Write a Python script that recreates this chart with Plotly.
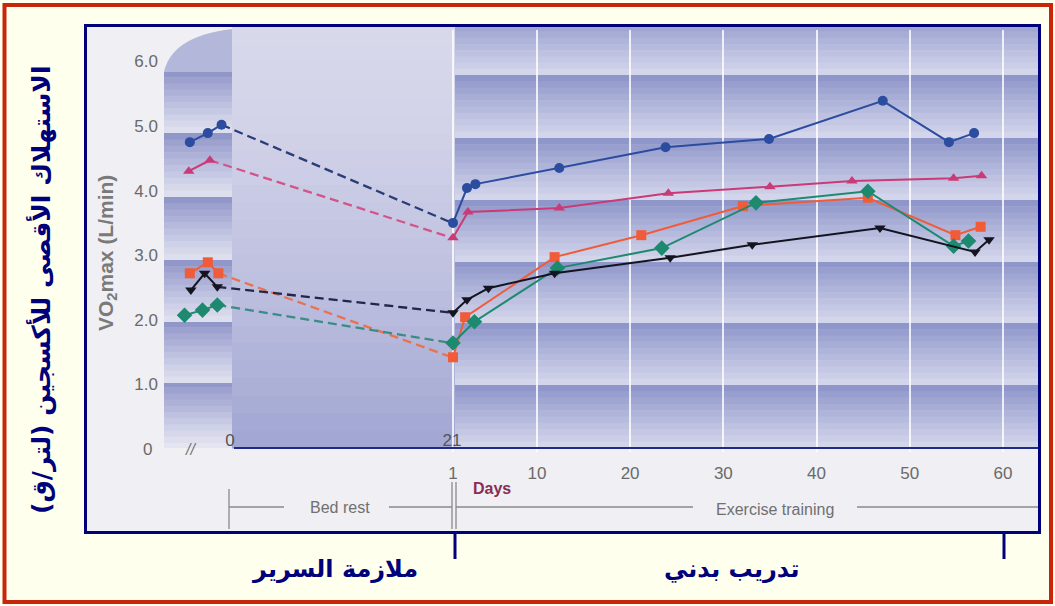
import plotly.graph_objects as go

# ---------------- data ----------------
bed_rest_ticks = [0, 21]
training_ticks = [1, 10, 20, 30, 40, 50, 60]
training_tick_text = ["1", "10", "20", "30", "40", "50", "60"]
y_ticks = [0, 1, 2, 3, 4, 5, 6]
y_tick_text = ["0", "1.0", "2.0", "3.0", "4.0", "5.0", "6.0"]
bed_rest_end_day = 21

blue_pre_days = [-3.8, -2.1, -0.8]
blue_pre = [4.75, 4.89, 5.02]
blue_train_days = [1, 2.5, 3.4, 12.4, 23.8, 34.9, 47.1, 54.2, 56.9]
blue_train = [3.50, 4.04, 4.10, 4.35, 4.67, 4.80, 5.39, 4.75, 4.89]

pink_pre_days = [-3.9, -1.9]
pink_pre = [4.30, 4.47]
pink_train_days = [1, 2.6, 12.4, 24.1, 35.0, 43.8, 54.7, 57.7]
pink_train = [3.27, 3.67, 3.73, 3.96, 4.06, 4.15, 4.19, 4.23]

orange_pre_days = [-3.8, -2.1, -1.1]
orange_pre = [2.72, 2.89, 2.72]
orange_train_days = [1, 2.3, 11.9, 21.2, 32.1, 45.5, 54.9, 57.6]
orange_train = [1.42, 2.04, 2.97, 3.31, 3.76, 3.89, 3.31, 3.44]

green_pre_days = [-4.3, -2.6, -1.2]
green_pre = [2.07, 2.15, 2.23]
green_train_days = [1, 3.3, 12.2, 23.4, 33.5, 45.5, 54.7, 56.3]
green_train = [1.64, 1.97, 2.80, 3.11, 3.81, 3.99, 3.14, 3.22]

black_pre_days = [-3.7, -2.4, -1.2]
black_pre = [2.46, 2.72, 2.51]
black_train_days = [1, 2.5, 4.8, 11.9, 24.3, 33.1, 46.8, 57.0, 58.5]
black_train = [2.11, 2.31, 2.49, 2.72, 2.96, 3.16, 3.42, 3.05, 3.24]

# ---------------- layout geometry (pixels) ----------------
W, H = 1055, 606
PL, PR, PT, PB = 165, 1039, 30, 452
Y0PX = 449          # pixel row of value 0
y_per = 64.6        # pixels per L/min


def px(x):
    return (x - PL) / (PR - PL)


def py(y):
    return (PB - y) / (PB - PT)


# bed-rest axis: day 0 at px 230, day 21 at px 452
k1 = (452 - 230) / 21.0
x1_range = [0 - (230 - PL) / k1, 21 + (PR - 452) / k1]
# training axis: day 1 at px 453, day 60 at px 1003
k2 = (1003 - 453) / 59.0
x2_range = [1 - (453 - PL) / k2, 60 + (PR - 1003) / k2]
y_range = [-(PB - Y0PX) / y_per, (Y0PX - PT) / y_per]

fig = go.Figure()

series = [
    ("blue", blue_pre_days, blue_pre, blue_train_days, blue_train, "#2B4C9F", "#2A3D78", "circle", 10),
    ("pink", pink_pre_days, pink_pre, pink_train_days, pink_train, "#C93A76", "#D2558A", "triangle-up", 10),
    ("orange", orange_pre_days, orange_pre, orange_train_days, orange_train, "#F05C3A", "#E8734F", "square", 10),
    ("green", green_pre_days, green_pre, green_train_days, green_train, "#1D8A70", "#3B8C84", "diamond", 12),
    ("black", black_pre_days, black_pre, black_train_days, black_train, "#141420", "#23254A", "triangle-down", 10),
]

# dashed bed-rest connections first
for name, pd_, pv, td, tv, col, dcol, sym, sz in series:
    fig.add_trace(go.Scatter(
        x=[pd_[-1], bed_rest_end_day], y=[pv[-1], tv[0]], xaxis="x", yaxis="y",
        mode="lines", line=dict(color=dcol, width=2.3, dash="9px,5px"),
        hoverinfo="skip", showlegend=False))

for name, pd_, pv, td, tv, col, dcol, sym, sz in series:
    fig.add_trace(go.Scatter(
        x=pd_, y=pv, xaxis="x", yaxis="y", mode="lines+markers",
        line=dict(color=col, width=2), marker=dict(symbol=sym, size=sz, color=col),
        showlegend=False, name=name))
    fig.add_trace(go.Scatter(
        x=td, y=tv, xaxis="x2", yaxis="y", mode="lines+markers",
        line=dict(color=col, width=2), marker=dict(symbol=sym, size=sz, color=col),
        showlegend=False, name=name))

# ---------------- background shapes ----------------
shapes = []


def rect(x0, y0, x1, y1, fill, layer="below"):
    shapes.append(dict(type="rect", xref="paper", yref="paper", x0=px(x0), x1=px(x1), y0=py(y0), y1=py(y1),
                       fillcolor=fill, layer=layer, line=dict(width=0)))


def mix(c1, c2, t):
    return "rgb(%d,%d,%d)" % tuple(round(a + (b - a) * t) for a, b in zip(c1, c2))


# frame interior
rect(85.5, 25.5, 1039.5, 532.5, "#EFEFF4")


def bands(x0, x1, bounds, dark, light, nominal=62, n=10):
    for top, bot in zip(bounds[:-1], bounds[1:]):
        start = bot - max(nominal, bot - top)
        h = bot - start
        for i in range(n):
            s0 = start + h * i / n
            s1 = start + h * (i + 1) / n
            if s1 <= top:
                continue
            s0 = max(s0, top)
            t = (i + 0.5) / n
            rect(x0, s0, x1, s1 + 0.6, mix(dark, light, t ** 0.9))


# training region stripes
bands(455, PR, [PT - 3, 75, 138, 200, 262, 323, 385, 448], (138, 146, 200), (214, 216, 236))
# left column stripes
bands(164, 232, [72, 133, 197, 260, 322, 383, 443], (140, 146, 199), (226, 227, 240))
rect(164, 443, 232, 448, "#E4E5F0")
# curved top of left column
shapes.append(dict(type="path", xref="paper", yref="paper", layer="below",
                   path="M %f,%f Q %f,%f %f,%f L %f,%f Z" % (
                       px(164), py(72), px(172), py(36), px(232), py(29), px(232), py(72)),
                   fillcolor="#B3B7DA", line=dict(width=0)))
# bed rest region vertical gradient
n = 24
for i in range(n):
    y0 = PT - 3 + (448 - PT + 3) * i / n
    y1 = PT - 3 + (448 - PT + 3) * (i + 1) / n
    rect(232, y0, 455, y1 + 0.6, mix((216, 216, 235), (162, 167, 211), (i / (n - 1)) ** 1.4))

# axis line
shapes.append(dict(type="line", xref="paper", yref="paper", x0=px(234), x1=px(PR), y0=py(448), y1=py(448),
                   line=dict(color="#1E2A8C", width=2), layer="above"))


def line(x0, y0, x1, y1, color="#8A8A8A", width=1.3):
    shapes.append(dict(type="line", xref="paper", yref="paper", x0=px(x0), x1=px(x1), y0=py(y0), y1=py(y1),
                       line=dict(color=color, width=width), layer="above"))


# bracket lines below axis
line(229, 489, 229, 529)
line(229, 507, 284, 507)
line(389, 507, 452, 507)
line(452, 482, 452, 529)
line(456, 482, 456, 529)
line(456, 507, 693, 507)
line(857, 507, 1038, 507)

# navy frame & ticks, red outer border
shapes.append(dict(type="rect", xref="paper", yref="paper", x0=px(85.5), x1=px(1039.5), y0=py(25.5), y1=py(532.5),
                   line=dict(color="#00007A", width=3), layer="above"))
line(455, 534, 455, 559, color="#00007A", width=3)
line(1004, 534, 1004, 559, color="#00007A", width=3)
shapes.append(dict(type="rect", xref="paper", yref="paper", x0=px(4.5), x1=px(1051), y0=py(5), y1=py(602),
                   line=dict(color="#C8260A", width=4), layer="above"))

# ---------------- annotations ----------------
ann = []

tick_family = "Liberation Sans Narrow, Arial Narrow, Liberation Sans, Arial"


def text(x, y, s, size, color, family="Liberation Sans, Arial", angle=0, bold=False):
    if bold:
        s = "<b>%s</b>" % s
    ann.append(dict(xref="paper", yref="paper", x=px(x), y=py(y), text=s, showarrow=False,
                    font=dict(size=size, color=color, family=family), textangle=angle,
                    xanchor="center", yanchor="middle"))


# y-axis zero label (plotly hides it next to the inside x labels)
ann.append(dict(xref="paper", yref="y", x=px(147), y=y_ticks[0], text=y_tick_text[0], showarrow=False,
                font=dict(size=17, color="#6A6A6A", family=tick_family), xanchor="center", yanchor="middle"))

text(190, 449, "<i>//</i>", 16, "#777777")
text(492, 488, "Days", 16, "#8A2D52", bold=True)
text(340, 507, "Bed rest", 16, "#707070")
text(775, 509, "Exercise training", 16, "#707070")
text(107, 253, "VO<sub>2</sub>max (L/min)", 21, "#7A7A7A", bold=True, angle=-90)
text(335, 569, "ملازمة السرير", 24, "#00007A", family="DejaVu Sans", bold=True)
text(732, 569, "تدريب بدني", 24, "#00007A", family="DejaVu Sans", bold=True)
text(42, 290, "الاستهلاك الأقصى للأكسجين (لتر/ق)", 25, "#00007A", family="DejaVu Sans", bold=True, angle=-90)

tick_font = dict(family=tick_family, size=17, color="#6A6A6A")

fig.update_layout(
    width=W, height=H,
    margin=dict(l=PL, r=W - PR, t=PT, b=H - PB, pad=0),
    paper_bgcolor="#FFFFEE", plot_bgcolor="rgba(0,0,0,0)",
    showlegend=False,
    xaxis=dict(range=x1_range, tickvals=bed_rest_ticks, ticktext=[str(v) for v in bed_rest_ticks],
               ticklabelposition="inside", ticks="", showgrid=False, zeroline=False, showline=False,
               tickfont=dict(family=tick_family, size=17, color="#555555"), fixedrange=True),
    xaxis2=dict(range=x2_range, overlaying="x", side="bottom", tickvals=training_ticks,
                ticktext=training_tick_text, ticks="", showgrid=True, gridcolor="rgba(255,255,255,0.8)",
                gridwidth=1.5, zeroline=False, showline=False, tickfont=tick_font, ticklabelstandoff=9,
                fixedrange=True),
    yaxis=dict(range=y_range, tickvals=y_ticks[1:], ticktext=y_tick_text[1:], ticks="", showgrid=False,
               zeroline=False, showline=False, tickfont=tick_font, ticklabelstandoff=6, fixedrange=True),
    shapes=shapes, annotations=ann,
)

fig.write_html("out.html", config={"displayModeBar": False},
               post_script="document.body.style.margin='0px';document.body.style.background='#FFFFEE';")
